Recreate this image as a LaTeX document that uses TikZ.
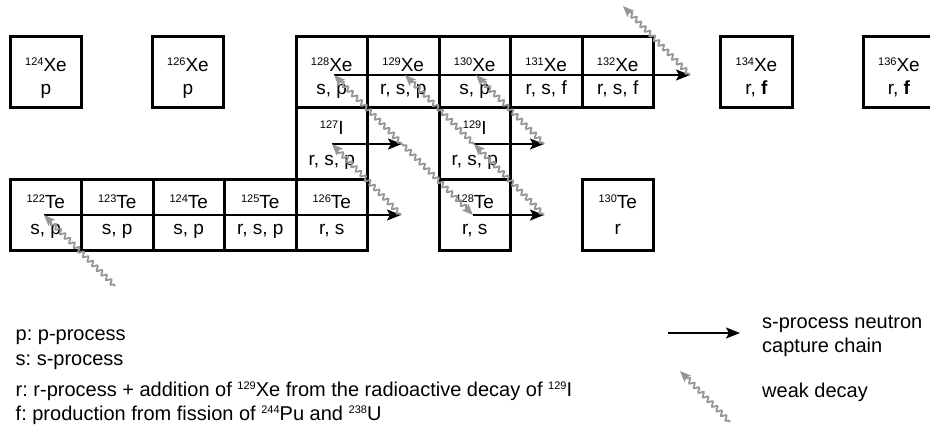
\documentclass[tikz,border=0pt]{standalone}
\usepackage{fontspec}
\setmainfont{Liberation Sans}
\usetikzlibrary{arrows.meta,decorations.pathmorphing}
\definecolor{decaygray}{RGB}{150,150,150}
\frenchspacing
\newcommand\isosup[1]{\raisebox{6pt}{\fontsize{11}{12}\selectfont #1}}
\newcommand\legsup[1]{\raisebox{6.4pt}{\fontsize{11}{12}\selectfont #1}}
\newcommand\nucbox[7]{%
  \node[cellbox] (#1) at (#2,#3+35.5) {};
  \node[celltxt] (#1u) at (#2,#4) {#6};
  \node[celltxt] (#1l) at (#2,#5) {#7};
}
\begin{document}
\frenchspacing
\begin{tikzpicture}[x=1pt,y=-1pt,
  cellbox/.style={draw, line width=3pt, minimum width=71.5pt, minimum height=71pt, inner sep=0pt, outer sep=0pt},
  celltxt/.style={font=\fontsize{19}{21}\selectfont, inner sep=0pt, anchor=base},
  legtxt/.style={font=\fontsize{20}{22}\selectfont, inner sep=0pt, anchor=base west},
  chain/.style={line width=1.8pt, -{Stealth[length=14pt,width=11pt,inset=3pt]}},
  decay/.style={decaygray, line width=1.8pt, decorate,
    decoration={snake, amplitude=2.2pt, segment length=6.5pt, pre length=2pt, post length=7pt},
    -{Stealth[length=11pt,width=9pt,inset=2pt]}},
]
\useasboundingbox (0,0) rectangle (930,428);
\clip (0,0) rectangle (930,428);

% Xe row
\nucbox{xe124}{46}{37}{72}{95}{\isosup{124}Xe}{p}
\nucbox{xe126}{188}{37}{72}{95}{\isosup{126}Xe}{p}
\nucbox{xe128}{331.75}{37}{72}{95}{\isosup{128}Xe}{s, p}
\nucbox{xe129}{403.25}{37}{72}{95}{\isosup{129}Xe}{r, s, p}
\nucbox{xe130}{474.75}{37}{72}{95}{\isosup{130}Xe}{s, p}
\nucbox{xe131}{546.25}{37}{72}{95}{\isosup{131}Xe}{r, s, f}
\nucbox{xe132}{617.75}{37}{72}{95}{\isosup{132}Xe}{r, s, f}
\nucbox{xe134}{756.5}{37}{72}{95}{\isosup{134}Xe}{r, \textbf{f}}
\nucbox{xe136}{899}{37}{72}{95}{\isosup{136}Xe}{r, \textbf{f}}
% I row
\nucbox{i127}{331.75}{108}{135}{165}{\isosup{127}I}{r, s, p}
\nucbox{i129}{474.75}{108}{135}{165}{\isosup{129}I}{r, s, p}
% Te row
\nucbox{te122}{45.75}{179}{208.5}{234}{\isosup{122}Te}{s, p}
\nucbox{te123}{117.25}{179}{208.5}{234}{\isosup{123}Te}{s, p}
\nucbox{te124}{188.75}{179}{208.5}{234}{\isosup{124}Te}{s, p}
\nucbox{te125}{260.25}{179}{208.5}{234}{\isosup{125}Te}{r, s, p}
\nucbox{te126}{331.75}{179}{208.5}{234}{\isosup{126}Te}{r, s}
\nucbox{te128}{474.75}{179}{208.5}{234}{\isosup{128}Te}{r, s}
\nucbox{te130}{617.75}{179}{208.5}{234}{\isosup{130}Te}{r}

% chain points
\coordinate (xe128c) at (334,75);
\coordinate (xe129c) at (405,75);
\coordinate (xe130c) at (476,75);
\coordinate (xe133c) at (690,75);
\coordinate (cs133c) at (623,6);
\coordinate (i127c) at (332,144);
\coordinate (i128c) at (402,144);
\coordinate (i129c) at (474,144);
\coordinate (i130c) at (544,144);
\coordinate (te122c) at (44,215);
\coordinate (te127c) at (401,215);
\coordinate (te128c) at (473,215);
\coordinate (te129c) at (544,215);
\coordinate (sb122c) at (115,286);

% s-process chains
\draw[chain] (xe128c) -- (xe133c);
\draw[chain] (i127c) -- (i128c);
\draw[chain] (i129c) -- (i130c);
\draw[chain] (te122c) -- (te127c);
\draw[chain] (te128c) -- (te129c);

% weak decays
\draw[decay] (sb122c) -- (te122c);
\draw[decay] (te127c) -- (i127c);
\draw[decay] (i128c) -- (xe128c);
\draw[decay] (i128c) -- (te128c);
\draw[decay] (i129c) -- (xe129c);
\draw[decay] (te129c) -- (i129c);
\draw[decay] (i130c) -- (xe130c);
\draw[decay] (xe133c) -- (cs133c);

% legend
\node[legtxt] (lp) at (15.5,340) {p: p-process};
\node[legtxt] (ls) at (15.5,365) {s: s-process};
\node[legtxt] (lr) at (15.5,396) {r: r-process + addition of \legsup{129}Xe from the radioactive decay of \legsup{129}I};
\node[legtxt] (lf) at (15.5,420) {f: production from fission of \legsup{244}Pu and \legsup{238}U};
\node[legtxt] (lc1) at (762,328) {s-process neutron};
\node[legtxt] (lc2) at (762,352) {capture chain};
\node[legtxt] (lw) at (762,397) {weak decay};
\coordinate (legA) at (668,333);
\coordinate (legB) at (740,333);
\coordinate (legW1) at (730,422);
\coordinate (legW2) at (680,371);
\draw[chain] (legA) -- (legB);
\draw[decay] (legW1) -- (legW2);
\end{tikzpicture}
\end{document}
